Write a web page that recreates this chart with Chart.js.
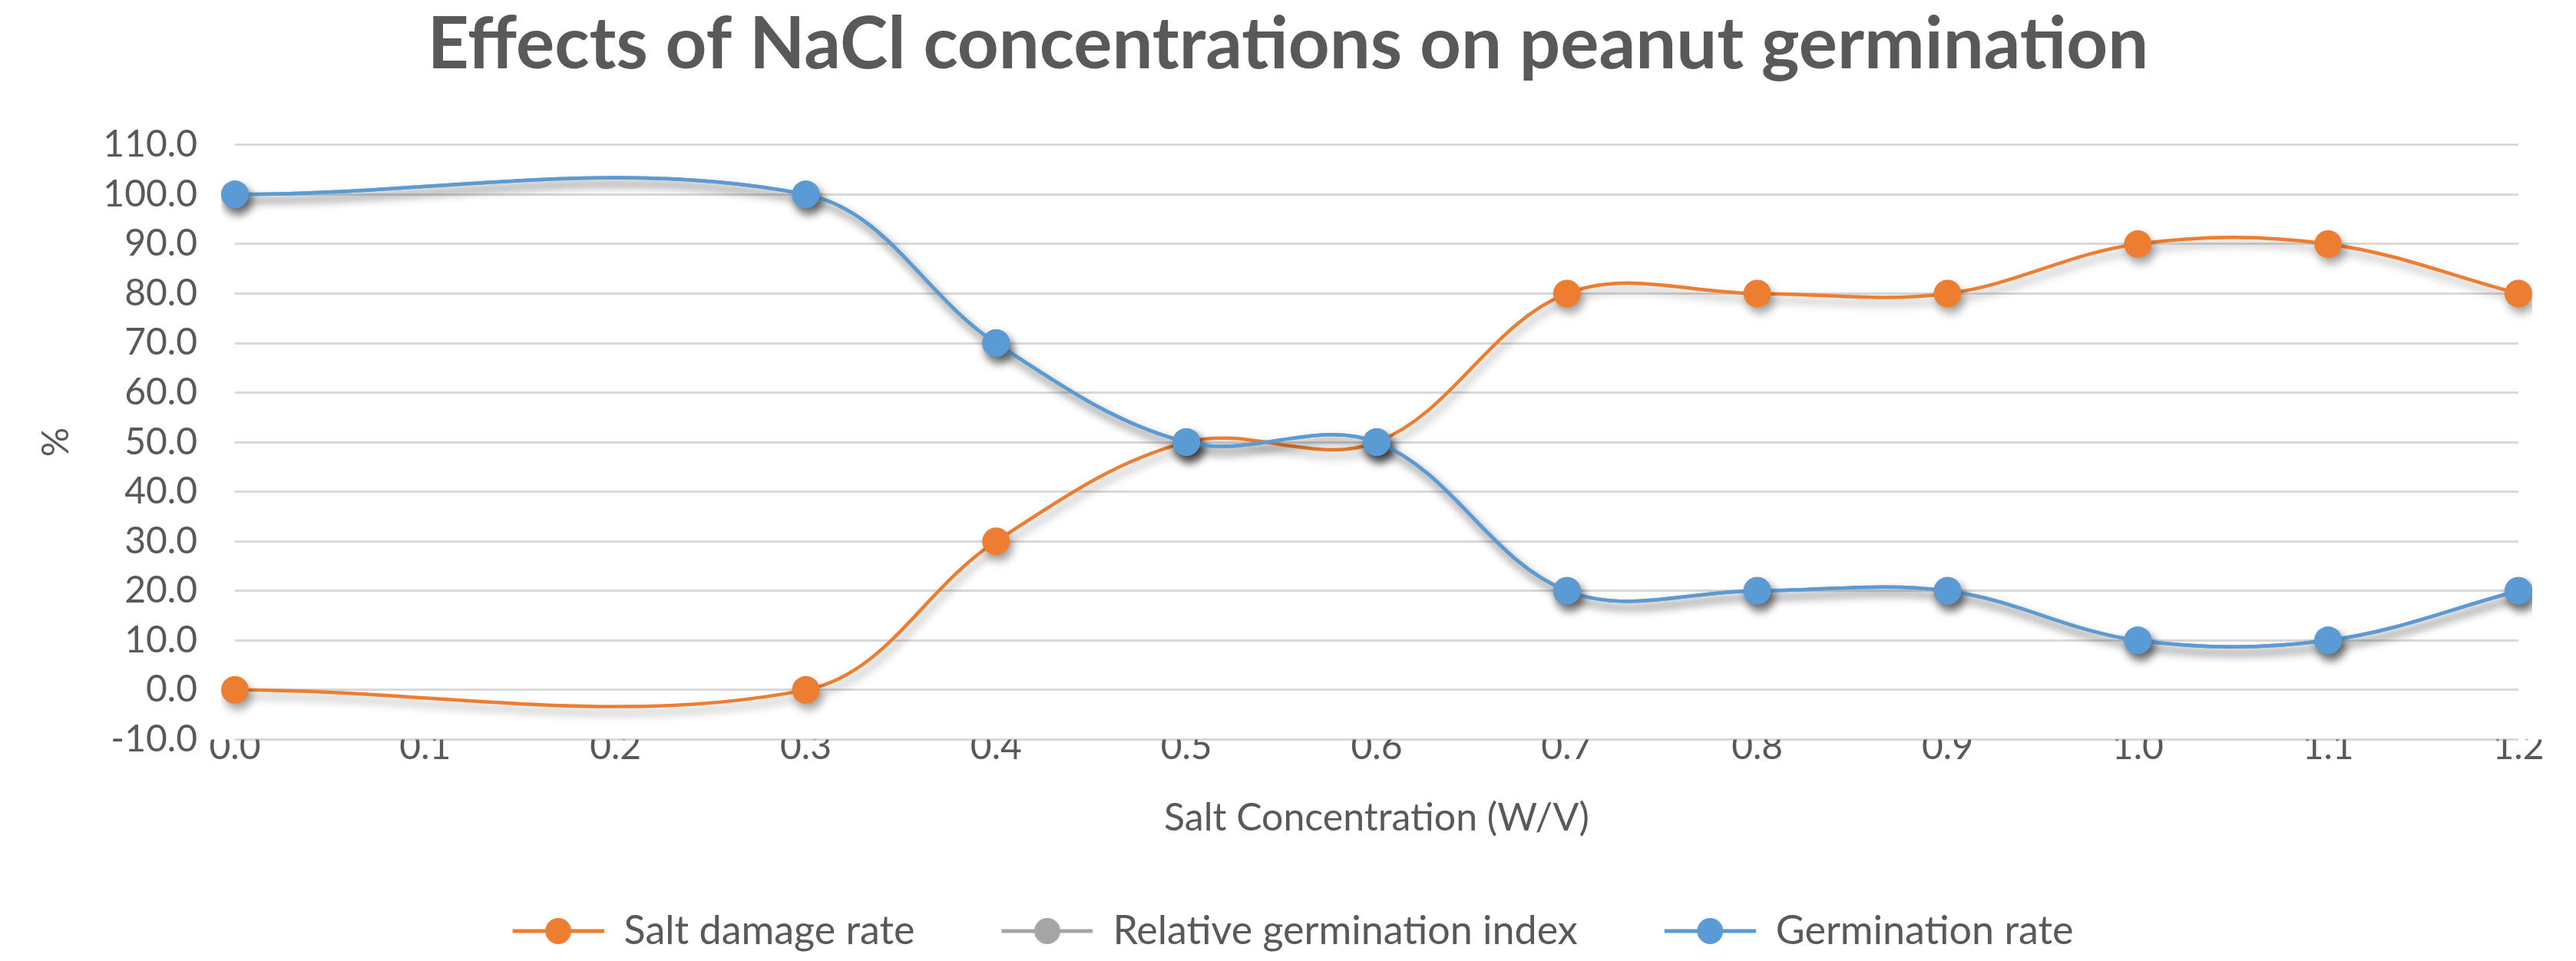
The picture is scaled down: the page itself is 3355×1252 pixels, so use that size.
<!DOCTYPE html>
<html>
<head>
<meta charset="utf-8">
<script src="https://cdn.jsdelivr.net/npm/chart.js@4/dist/chart.umd.min.js"></script>
<style>
    html, body { margin: 0; padding: 0; background: #fff; }
    #wrap { width: 3355px; height: 1252px; }
</style>
</head>
<body>
<div id="wrap"><canvas class="myChart" width="3355" height="1252"></canvas></div>
<script>
// values (0.1 and 0.2 have no data)
const concentrations = ['0.0', '0.1', '0.2', '0.3', '0.4', '0.5', '0.6', '0.7', '0.8', '0.9', '1.0', '1.1', '1.2'];
const saltDamageRate = [0, null, null, 0, 30, 50, 50, 80, 80, 80, 90, 90, 80];
const relativeGerminationIndex = [100, null, null, 100, 70, 50, 50, 20, 20, 20, 10, 10, 20];
const germinationRate = [100, null, null, 100, 70, 50, 50, 20, 20, 20, 10, 10, 20];
const seriesNames = ['Salt damage rate', 'Relative germination index', 'Germination rate'];
const seriesColors = ['#ED7D31', '#A5A5A5', '#5B9BD5'];

const textColor = '#595959';
const fontFamily = 'Lato, "Open Sans", sans-serif';

// legend swatch: small transparent gap on the left, then line with a dot
function legendMarker(color) {
    const c = document.createElement('canvas');
    c.width = 132;
    c.height = 40;
    const g = c.getContext('2d');
    g.strokeStyle = color;
    g.lineWidth = 5;
    g.beginPath();
    g.moveTo(13, 20);
    g.lineTo(132, 20);
    g.stroke();
    g.fillStyle = color;
    g.beginPath();
    g.arc(72.5, 20, 17, 0, Math.PI * 2);
    g.fill();
    return c;
}

const background = {
    id: 'custom_canvas_background_color',
    beforeDraw: (chart) => {
        const { ctx } = chart;
        ctx.save();
        ctx.globalCompositeOperation = 'destination-over';
        ctx.fillStyle = '#ffffff';
        ctx.fillRect(0, 0, chart.width, chart.height);
        ctx.restore();
    }
};

// soft drop shadow under lines and markers, like the office chart
const shadow = {
    id: 'series_shadow',
    beforeDatasetsDraw: (chart) => {
        const { ctx } = chart;
        ctx.save();
        ctx.shadowColor = 'rgba(0, 0, 0, 0.35)';
        ctx.shadowBlur = 12;
        ctx.shadowOffsetX = 4;
        ctx.shadowOffsetY = 8;
    },
    afterDatasetsDraw: (chart) => {
        chart.ctx.restore();
    }
};

function makeDataset(i, values, order) {
    return {
        label: seriesNames[i],
        data: values,
        borderColor: seriesColors[i],
        backgroundColor: seriesColors[i],
        borderWidth: 4.5,
        pointRadius: 18,
        pointBorderWidth: 0,
        pointHoverRadius: 18,
        tension: 0.36,
        spanGaps: true,
        fill: false,
        order: order,
        pointStyle: 'circle'
    };
}

function createChart() {
    const ctx = document.querySelector('.myChart').getContext('2d');

    new Chart(ctx, {
        type: 'line',
        data: {
            labels: concentrations,
            datasets: [
                makeDataset(0, saltDamageRate, 2),
                makeDataset(1, relativeGerminationIndex, 1),
                makeDataset(2, germinationRate, 0)
            ]
        },
        options: {
            responsive: false,
            animation: false,
            devicePixelRatio: 1,
            layout: {
                padding: { left: 0, right: 0, top: 0, bottom: 3 }
            },
            scales: {
                x: {
                    type: 'category',
                    offset: false,
                    grid: { display: false, drawTicks: false },
                    border: { display: false },
                    ticks: {
                        color: textColor,
                        font: { family: fontFamily, size: 48 },
                        padding: -19,
                        maxRotation: 0,
                        autoSkip: false,
                        z: 1
                    },
                    title: {
                        display: true,
                        text: 'Salt Concentration (W/V)',
                        color: textColor,
                        font: { family: fontFamily, size: 50 },
                        padding: { top: 53, bottom: -9 }
                    }
                },
                y: {
                    min: -10,
                    max: 110,
                    grid: { color: '#D9D9D9', lineWidth: 3, drawTicks: false, z: -1 },
                    border: { display: false },
                    ticks: {
                        stepSize: 10,
                        color: textColor,
                        font: { family: fontFamily, size: 48 },
                        padding: 49,
                        callback: (v) => Number(v).toFixed(1)
                    },
                    title: {
                        display: true,
                        text: '%',
                        color: textColor,
                        font: { family: fontFamily, size: 48 },
                        padding: { top: 45, bottom: 0 }
                    },
                    afterFit: (scale) => {
                        scale.width = 306;
                    }
                },
                // empty right-hand spacer so the title stays centred on the canvas
                yRight: {
                    position: 'right',
                    grid: { display: false },
                    border: { display: false },
                    ticks: { display: false },
                    afterFit: (scale) => {
                        scale.width = 75;
                    }
                }
            },
            plugins: {
                title: {
                    display: true,
                    text: 'Effects of NaCl concentrations on peanut germination',
                    color: textColor,
                    font: { family: fontFamily, size: 94, weight: 'bold' },
                    padding: { top: 2, bottom: 74 }
                },
                legend: {
                    position: 'bottom',
                    labels: {
                        color: textColor,
                        font: { family: fontFamily, size: 52 },
                        usePointStyle: true,
                        pointStyleWidth: 132,
                        padding: 100,
                        sort: (a, b) => a.datasetIndex - b.datasetIndex,
                        generateLabels: (chart) => chart.data.datasets.map((ds, i) => ({
                            text: ds.label,
                            fontColor: textColor,
                            pointStyle: legendMarker(seriesColors[i]),
                            datasetIndex: i,
                            lineWidth: 0
                        }))
                    }
                },
                tooltip: { enabled: false }
            }
        },
        plugins: [background, shadow]
    });
}

createChart();
</script>
</body>
</html>
